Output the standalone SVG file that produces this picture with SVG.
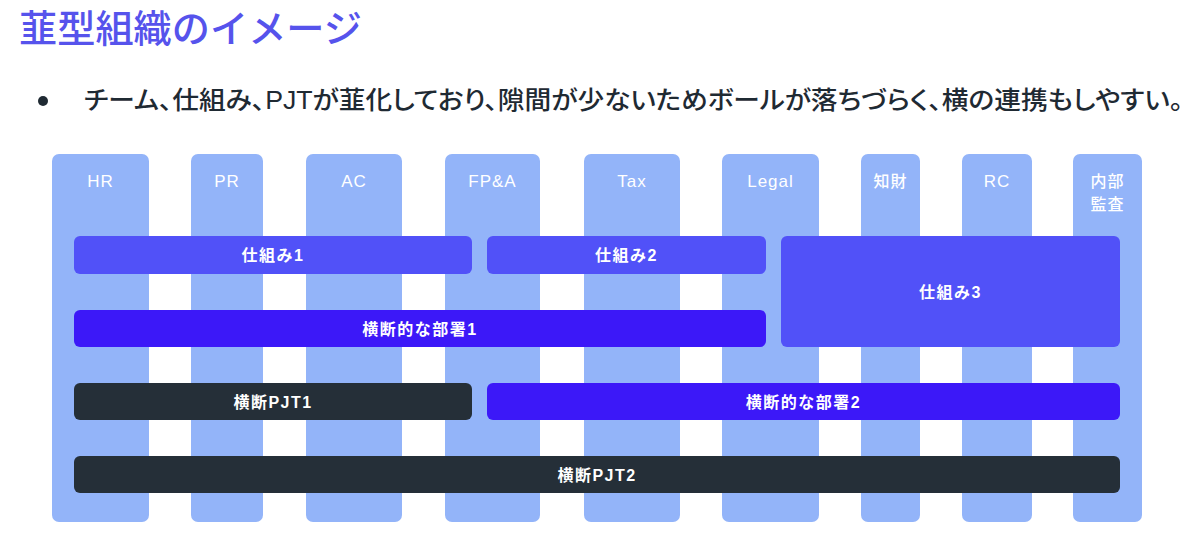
<svg xmlns="http://www.w3.org/2000/svg" width="1200" height="544" viewBox="0 0 1200 544">
<style>
.col{fill:#93b4f9}
.clab{fill:#ffffff;font-family:"Liberation Sans","Noto Sans CJK JP",sans-serif;font-size:17px;font-weight:400;text-anchor:middle;letter-spacing:1px}
.clabj{fill:#ffffff;font-family:"Noto Sans CJK JP",sans-serif;font-size:16px;font-weight:500;text-anchor:middle;letter-spacing:1px}
.blab{fill:#ffffff;font-family:"Liberation Sans","Noto Sans CJK JP",sans-serif;font-size:16px;font-weight:700;text-anchor:middle;letter-spacing:1.5px}
.shikumi{fill:#5151f8}
.busho{fill:#3c18f8}
.pjt{fill:#252f38}
</style>
<rect width="1200" height="544" fill="#ffffff"/>
<text x="19" y="42" font-family="'Noto Sans CJK JP',sans-serif" font-size="38" font-weight="500" fill="#5653ec" textLength="343" lengthAdjust="spacingAndGlyphs">韮型組織のイメージ</text>
<circle cx="43" cy="101" r="5" fill="#1f2a33"/>
<text x="84" y="109" font-family="'Liberation Sans','Noto Sans CJK JP',sans-serif" font-size="25" font-weight="500" fill="#1f2a33" style="font-feature-settings:'palt'" textLength="1099" lengthAdjust="spacingAndGlyphs">チーム、仕組み、PJTが韮化しており、隙間が少ないためボールが落ちづらく、横の連携もしやすい。</text>
<g id="columns">
<g id="col-hr"><rect class="col" x="52" y="154" width="97" height="368" rx="7"/><text class="clab" x="100.5" y="187">HR</text></g>
<g id="col-pr"><rect class="col" x="191" y="154" width="72" height="368" rx="7"/><text class="clab" x="227" y="187">PR</text></g>
<g id="col-ac"><rect class="col" x="306" y="154" width="96" height="368" rx="7"/><text class="clab" x="354" y="187">AC</text></g>
<g id="col-fpa"><rect class="col" x="445" y="154" width="95" height="368" rx="7"/><text class="clab" x="492.5" y="187">FP&amp;A</text></g>
<g id="col-tax"><rect class="col" x="584" y="154" width="96" height="368" rx="7"/><text class="clab" x="632" y="187">Tax</text></g>
<g id="col-legal"><rect class="col" x="722" y="154" width="97" height="368" rx="7"/><text class="clab" x="770.5" y="187">Legal</text></g>
<g id="col-ip"><rect class="col" x="861" y="154" width="59" height="368" rx="7"/><text class="clabj" x="890.5" y="187">知財</text></g>
<g id="col-rc"><rect class="col" x="962" y="154" width="70" height="368" rx="7"/><text class="clab" x="997" y="187">RC</text></g>
<g id="col-audit"><rect class="col" x="1073" y="154" width="69" height="368" rx="7"/><text class="clabj" x="1107.5" y="187">内部</text><text class="clabj" x="1107.5" y="210">監査</text></g>
</g>
<g id="bars">
<g id="shikumi1"><rect class="shikumi" x="74" y="236" width="398" height="38" rx="6"/><text class="blab" x="273" y="260.5">仕組み1</text></g>
<g id="shikumi2"><rect class="shikumi" x="487" y="236" width="279" height="38" rx="6"/><text class="blab" x="626.5" y="260.5">仕組み2</text></g>
<g id="shikumi3"><rect class="shikumi" x="781" y="236" width="339" height="111" rx="6"/><text class="blab" x="950.5" y="297.5">仕組み3</text></g>
<g id="busho1"><rect class="busho" x="74" y="310" width="692" height="37" rx="6"/><text class="blab" x="420" y="334.5">横断的な部署1</text></g>
<g id="pjt1"><rect class="pjt" x="74" y="383" width="398" height="37" rx="6"/><text class="blab" x="273" y="407.5">横断PJT1</text></g>
<g id="busho2"><rect class="busho" x="487" y="383" width="633" height="37" rx="6"/><text class="blab" x="803.5" y="407.5">横断的な部署2</text></g>
<g id="pjt2"><rect class="pjt" x="74" y="456" width="1046" height="37" rx="6"/><text class="blab" x="597" y="480.5">横断PJT2</text></g>
</g>
<g id="connectors"/>
</svg>
